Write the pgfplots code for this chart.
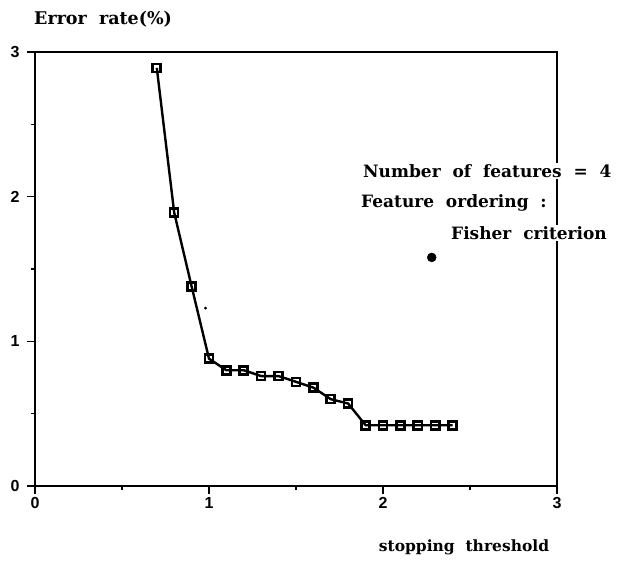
\documentclass[border=0pt]{standalone}
\usepackage{pgfplots}
\pgfplotsset{compat=1.18}
\usepackage{fontspec}
\setmainfont{DejaVu Serif}
\newfontfamily\ticksans{Liberation Sans}
\begin{document}
\begin{tikzpicture}[x=1pt,y=1pt]
\useasboundingbox (0,0) rectangle (622,563);
\begin{axis}[
  at={(35pt,77pt)}, anchor=south west,
  scale only axis, width=522pt, height=434pt,
  xmin=0, xmax=3, ymin=0, ymax=3,
  xtick={0,1,2,3}, ytick={0,1,2,3},
  minor xtick={0.5,1.5,2.5}, minor ytick={0.5,1.5,2.5},
  xtick pos=bottom, ytick pos=left,
  tick align=outside,
  major tick length=8pt, minor tick length=4pt,
  every tick/.style={line width=1.4pt, black},
  axis line style={line width=1.8pt},
  tick label style={font=\ticksans\bfseries\fontsize{16}{16}\selectfont},
  yticklabel style={xshift=-4pt},
  /pgf/number format/assume math mode=true,
  clip=false,
]
\addplot[line width=2.4pt, black, mark=square, mark size=4pt,
  mark options={line width=2.6pt, fill=white, solid}]
  coordinates {
  (0.7,2.89) (0.8,1.89) (0.9,1.38) (1.0,0.88)
  (1.1,0.80) (1.2,0.80) (1.3,0.76) (1.4,0.76) (1.5,0.72)
  (1.6,0.68) (1.7,0.60) (1.8,0.57) (1.9,0.42) (2.0,0.42)
  (2.1,0.42) (2.2,0.42) (2.3,0.42) (2.4,0.42)
  };
\addplot[only marks, black, mark=*, mark size=4.5pt] coordinates {(2.28,1.58)};
\addplot[only marks, black, mark=*, mark size=1.2pt] coordinates {(0.98,1.23)};
\end{axis}
\begin{scope}[every node/.style={font=\bfseries\fontsize{17}{17}\selectfont, inner sep=1pt}]
\node[anchor=west, font=\bfseries\fontsize{17.5}{17.5}\selectfont] at (33,544) {Error\ \ rate(\%)};
\node[anchor=center, font=\bfseries\fontsize{15.5}{15.5}\selectfont] at (464,16) {stopping\ \ threshold};
\node[anchor=west, fill=white] at (362,392) {Number\ \ of\ \ features\ \ =\ \ 4};
\node[anchor=west, fill=white] at (360,360) {Feature\ \ ordering\ \ :};
\node[anchor=west, fill=white] at (450,330) {Fisher\ \ criterion};
\end{scope}
\end{tikzpicture}
\end{document}
